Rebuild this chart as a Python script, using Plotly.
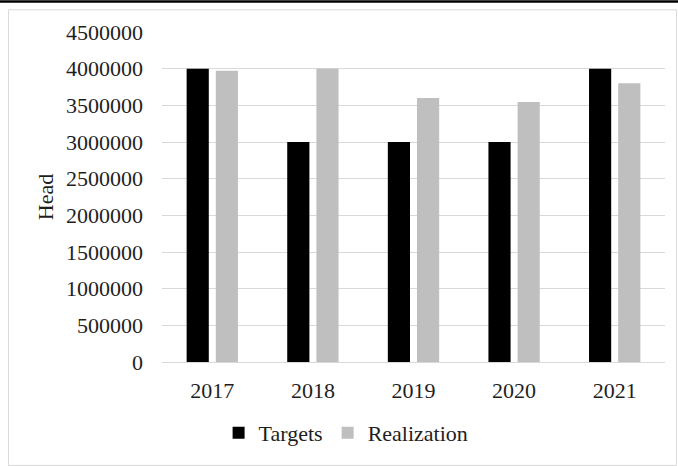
import plotly.graph_objects as go

years = ["2017", "2018", "2019", "2020", "2021"]
targets = [4000000, 3000000, 3000000, 3000000, 4000000]
realization = [3970000, 4000000, 3600000, 3545000, 3800000]
y_ticks = [0, 500000, 1000000, 1500000, 2000000, 2500000, 3000000, 3500000, 4000000, 4500000]

W, H = 678, 466
L, R, T, B = 162, 13, 32, 99
pw, ph = W - L - R, H - T - B

def px_x(p):
    return (p - L) / pw

def px_y(p):
    return (H - B - p) / ph

FONT = "Liberation Serif, Times New Roman, serif"
TXT = "#1e1e1e"

fig = go.Figure()
fig.add_trace(go.Bar(name="Targets", x=years, y=targets, marker=dict(color="#000000", line=dict(width=0))))
fig.add_trace(go.Bar(name="Realization", x=years, y=realization, marker=dict(color="#bfbfbf", line=dict(width=0))))

fig.update_layout(
    width=W, height=H, autosize=False,
    margin=dict(l=L, r=R, t=T, b=B, pad=0),
    paper_bgcolor="white", plot_bgcolor="white",
    barmode="group", bargap=0.42, bargroupgap=0.24,
    font=dict(family=FONT, size=22, color=TXT),
    showlegend=True,
    legend=dict(orientation="h", x=0.366, xanchor="center", y=px_y(439), yanchor="middle",
                font=dict(family=FONT, size=22, color=TXT), bgcolor="rgba(0,0,0,0)",
                traceorder="normal"),
    xaxis=dict(showgrid=False, showline=True, linecolor="#d9d9d9", linewidth=1,
               ticks="", ticklabelstandoff=9, tickfont=dict(family=FONT, size=22, color=TXT)),
    yaxis=dict(range=[0, 4500000], tickvals=y_ticks, ticktext=[str(v) for v in y_ticks],
               showgrid=True, gridcolor="#d9d9d9", gridwidth=1, zeroline=False, showline=False,
               ticks="", ticklabelstandoff=18, tickfont=dict(family=FONT, size=22, color=TXT),
               title=dict(text="Head", standoff=6, font=dict(family=FONT, size=22, color=TXT))),
    shapes=[
        dict(type="rect", xref="paper", yref="paper", x0=px_x(8.5), x1=px_x(676.5),
             y0=px_y(472), y1=px_y(9.5), line=dict(color="#d9d9d9", width=1), fillcolor="rgba(0,0,0,0)", layer="below"),
        dict(type="line", xref="paper", yref="paper", x0=px_x(-5), x1=px_x(690),
             y0=px_y(1), y1=px_y(1), line=dict(color="#000000", width=2.5)),
    ],
)

fig.write_html("out.html")
